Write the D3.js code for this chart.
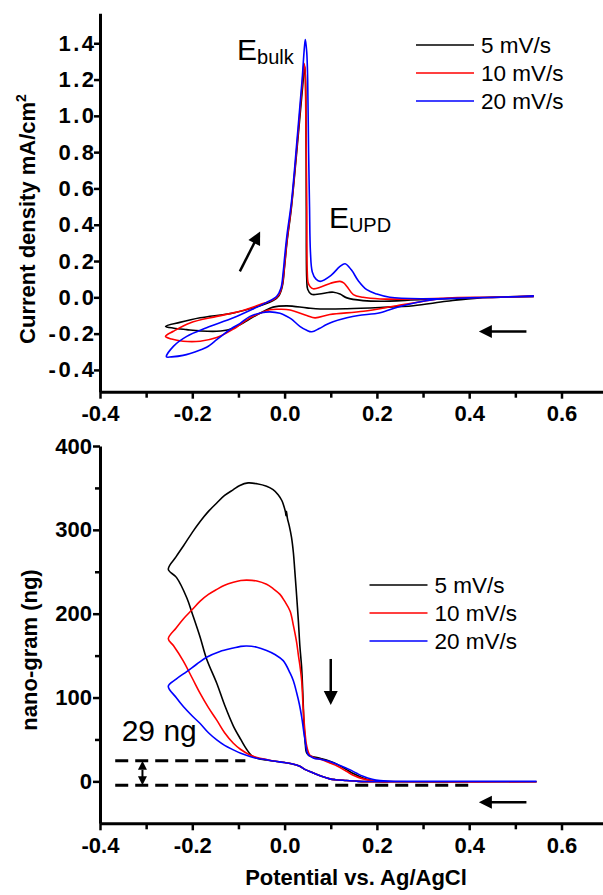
<!DOCTYPE html>
<html>
<head>
<meta charset="utf-8">
<script src="https://cdn.jsdelivr.net/npm/d3@7"></script>
<style>
  body { margin: 0; background: #fff; }
  svg { display: block; }
  text { font-family: "Liberation Sans", Arial, Helvetica, sans-serif; }
</style>
</head>
<body>
<svg id="chart" width="603" height="895"></svg>
<script>
// ---- series ----
const seriesNames = ["5 mV/s", "10 mV/s", "20 mV/s"];
const seriesColors = ["#000000", "#ff0000", "#0000ff"];

// ---- axis ticks ----
const xTickValues = [-0.4, -0.2, 0, 0.2, 0.4, 0.6];
const xTickLabels = ["-0.4", "-0.2", "0.0", "0.2", "0.4", "0.6"];
const xMinorTicks = [-0.3, -0.1, 0.1, 0.3, 0.5];
const cvTickValues = [-0.4, -0.2, 0, 0.2, 0.4, 0.6, 0.8, 1.0, 1.2, 1.4];
const cvTickLabels = ["-0.4", "-0.2", "0.0", "0.2", "0.4", "0.6", "0.8", "1.0", "1.2", "1.4"];
const massTickValues = [0, 100, 200, 300, 400];
const massTickLabels = ["0", "100", "200", "300", "400"];
const massMinorTicks = [50, 150, 250, 350];

// ---- cyclic voltammograms: [potential V, current density mA/cm2] ----
const cv5 = [
  [0.54, 0.005], [0.423, -0.003], [0.351, -0.022], [0.279, -0.046], [0.207, -0.056],
  [0.135, -0.063], [0.077, -0.064], [0.048, -0.058], [0.005, -0.047], [-0.025, -0.054],
  [-0.046, -0.078], [-0.075, -0.118], [-0.097, -0.152], [-0.118, -0.176], [-0.147, -0.187],
  [-0.183, -0.185], [-0.212, -0.178], [-0.24, -0.17], [-0.258, -0.16],
  [-0.227, -0.138], [-0.183, -0.113], [-0.111, -0.086], [-0.053, -0.046], [-0.024, -0.017],
  [-0.012, 0.01], [-0.005, 0.06], [0.0, 0.17], [0.005, 0.3], [0.015, 0.5], [0.028, 0.85],
  [0.038, 1.13], [0.042, 1.24], [0.044, 1.27], [0.046, 1.1], [0.047, 0.5], [0.048, 0.1],
  [0.05, 0.045], [0.058, 0.017], [0.075, 0.018], [0.095, 0.027], [0.106, 0.028], [0.12, 0.018],
  [0.135, -0.003], [0.17, -0.018], [0.207, -0.022], [0.3, -0.012], [0.42, -0.002], [0.54, 0.005]
];
const cv10 = [
  [0.54, 0.005], [0.45, 0.0], [0.351, -0.004], [0.301, -0.022], [0.243, -0.046],
  [0.171, -0.077], [0.098, -0.095], [0.066, -0.113], [0.048, -0.1], [0.012, -0.07],
  [-0.01, -0.066], [-0.032, -0.068], [-0.05, -0.085], [-0.075, -0.113], [-0.111, -0.175],
  [-0.147, -0.222], [-0.183, -0.242], [-0.22, -0.242], [-0.245, -0.23], [-0.258, -0.215],
  [-0.241, -0.187], [-0.205, -0.141], [-0.147, -0.105], [-0.097, -0.077], [-0.053, -0.04],
  [-0.024, -0.013], [-0.012, 0.015], [-0.005, 0.07], [0.0, 0.18], [0.005, 0.31], [0.015, 0.51],
  [0.028, 0.87], [0.038, 1.17], [0.042, 1.29], [0.044, 1.26], [0.046, 1.0], [0.048, 0.5],
  [0.049, 0.15], [0.051, 0.08], [0.055, 0.06], [0.062, 0.047], [0.08, 0.058], [0.1, 0.078],
  [0.12, 0.088], [0.128, 0.08], [0.135, 0.06], [0.149, 0.015], [0.17, 0.0], [0.207, -0.009],
  [0.3, -0.008], [0.4, -0.002], [0.54, 0.005]
];
const cv20 = [
  [0.54, 0.005], [0.45, 0.0], [0.38, -0.005], [0.322, -0.013], [0.25, -0.05],
  [0.207, -0.085], [0.16, -0.1], [0.135, -0.113], [0.105, -0.135], [0.091, -0.15],
  [0.075, -0.172], [0.059, -0.19], [0.048, -0.182], [0.033, -0.16], [0.015, -0.12],
  [0.005, -0.105], [-0.01, -0.088], [-0.032, -0.08], [-0.05, -0.085], [-0.075, -0.105],
  [-0.097, -0.145], [-0.111, -0.165], [-0.133, -0.205], [-0.147, -0.233], [-0.169, -0.275],
  [-0.183, -0.29], [-0.22, -0.32], [-0.245, -0.328], [-0.256, -0.328],
  [-0.241, -0.27], [-0.212, -0.215], [-0.169, -0.168], [-0.111, -0.113], [-0.068, -0.064],
  [-0.039, -0.028], [-0.017, 0.006], [-0.008, 0.05], [-0.003, 0.14], [0.0, 0.22], [0.005, 0.34],
  [0.015, 0.53], [0.028, 0.9], [0.038, 1.2], [0.043, 1.38], [0.045, 1.42], [0.048, 1.35],
  [0.05, 1.2], [0.052, 0.8], [0.054, 0.5], [0.056, 0.25], [0.06, 0.14], [0.068, 0.1],
  [0.077, 0.088], [0.1, 0.12], [0.12, 0.17], [0.131, 0.185], [0.145, 0.15], [0.16, 0.09],
  [0.178, 0.042], [0.2, 0.018], [0.228, 0.0], [0.3, -0.008], [0.4, -0.003], [0.54, 0.005]
];

// ---- EQCM mass change: [potential V, mass ng] ----
const mass5 = [
  [0.546, -0.5], [0.4, -0.5], [0.25, -0.5], [0.2, -0.5], [0.16, 0], [0.134, 1], [0.11, 2],
  [0.098, 3], [0.08, 6], [0.062, 10], [0.045, 14], [0.033, 18], [0.015, 21], [0.0, 22.5],
  [-0.02, 24], [-0.039, 25.5], [-0.06, 27.5], [-0.07, 30], [-0.082, 38], [-0.095, 50],
  [-0.111, 66], [-0.13, 91], [-0.147, 117], [-0.169, 146], [-0.183, 172], [-0.2, 200],
  [-0.212, 219], [-0.234, 243], [-0.252, 253],
  [-0.235, 268], [-0.219, 281], [-0.2, 297], [-0.183, 310], [-0.165, 322], [-0.147, 332],
  [-0.13, 341], [-0.111, 348], [-0.097, 353], [-0.079, 356], [-0.06, 355], [-0.039, 352],
  [-0.025, 348], [-0.014, 342], [-0.006, 335], [-0.002, 329], [0.002, 321], [0.003, 317],
  [0.004, 322], [0.006, 314], [0.01, 305], [0.015, 291], [0.019, 273], [0.022, 252],
  [0.026, 222], [0.03, 190], [0.033, 162], [0.037, 135], [0.04, 98], [0.042, 68],
  [0.045, 44], [0.047, 35], [0.052, 31], [0.058, 30], [0.08, 27], [0.098, 24], [0.115, 20],
  [0.134, 14], [0.15, 9], [0.17, 4], [0.19, 1], [0.207, 0], [0.25, -0.5], [0.4, -0.5], [0.546, -0.5]
];
const mass10 = [
  [0.546, -0.5], [0.4, -0.5], [0.25, -0.5], [0.2, -0.5], [0.16, 0], [0.134, 1], [0.11, 2],
  [0.098, 3], [0.08, 6], [0.062, 10], [0.045, 14], [0.033, 18], [0.015, 21], [0.0, 22.5],
  [-0.02, 24], [-0.039, 26], [-0.06, 28.5], [-0.075, 31.5], [-0.095, 38], [-0.111, 45.5],
  [-0.13, 58], [-0.147, 73], [-0.165, 88], [-0.183, 105], [-0.2, 123], [-0.22, 144],
  [-0.241, 162], [-0.252, 170],
  [-0.235, 183], [-0.219, 194], [-0.2, 205], [-0.183, 215], [-0.165, 223], [-0.147, 229],
  [-0.13, 234], [-0.111, 237.5], [-0.095, 239.5], [-0.082, 240], [-0.06, 239], [-0.039, 235],
  [-0.025, 230], [-0.01, 223], [0.0, 215], [0.012, 203], [0.019, 186], [0.026, 166],
  [0.03, 150], [0.033, 139], [0.037, 120], [0.04, 90], [0.044, 60], [0.048, 42], [0.055, 31],
  [0.065, 28], [0.08, 26], [0.098, 22], [0.115, 18], [0.134, 12], [0.15, 7], [0.17, 3],
  [0.19, 1], [0.207, 0], [0.3, -0.5], [0.546, -0.5]
];
const mass20 = [
  [0.546, 0], [0.4, 0], [0.25, 0], [0.2, -0.2], [0.16, 0], [0.134, 1], [0.11, 2],
  [0.098, 3], [0.08, 6], [0.062, 10], [0.045, 14], [0.033, 18], [0.015, 21], [0.0, 22.5],
  [-0.02, 24], [-0.039, 25.7], [-0.06, 27.5], [-0.075, 29.7], [-0.095, 33.5], [-0.111, 37.6],
  [-0.13, 43], [-0.147, 49.5], [-0.165, 58], [-0.183, 69], [-0.2, 78], [-0.219, 89],
  [-0.235, 100], [-0.252, 113.5],
  [-0.235, 122], [-0.212, 131], [-0.19, 140], [-0.169, 148], [-0.14, 155], [-0.111, 159],
  [-0.095, 161], [-0.082, 161.5], [-0.06, 160], [-0.039, 156], [-0.02, 151], [-0.003, 144],
  [0.012, 129], [0.019, 120], [0.026, 106], [0.032, 92], [0.037, 77], [0.044, 50],
  [0.051, 32], [0.062, 28], [0.08, 26], [0.098, 23.7], [0.12, 19], [0.141, 14], [0.155, 10],
  [0.17, 6], [0.19, 2.5], [0.207, 1], [0.25, 0], [0.4, 0], [0.546, 0]
];

// ---- annotation values ----
const massStepUpper = 24.5;   // ng, end of UPD mass gain
const massStepLower = -4.5;   // ng, baseline
const massStepLabel = "29 ng";

// ---- layout ----
const svg = d3.select("#chart");
const FONT = '"Liberation Sans", Arial, Helvetica, sans-serif';

const x = d3.scaleLinear().domain([-0.4, 0.7]).range([100, 607.65]);
const yCV = d3.scaleLinear().domain([-0.52, 1.565]).range([391.7, 13.3]);
const yM = d3.scaleLinear().domain([-50, 400]).range([823.3, 446]);

function styleAxis(g) {
  g.attr("font-family", FONT).attr("font-size", 22).attr("font-weight", "bold");
  g.select(".domain").attr("stroke", "#000").attr("stroke-width", 3);
  g.selectAll(".tick line").attr("stroke", "#000").attr("stroke-width", 2.5);
  g.selectAll(".tick text").attr("fill", "#000");
}

function drawXAxis(yPos) {
  const gx = svg.append("g").attr("transform", `translate(0,${yPos})`)
    .call(d3.axisBottom(x).tickValues(xTickValues)
      .tickFormat((d, i) => xTickLabels[i]).tickSize(7).tickSizeOuter(0).tickPadding(7));
  styleAxis(gx);
  const gm = svg.append("g").attr("transform", `translate(0,${yPos})`)
    .call(d3.axisBottom(x).tickValues(xMinorTicks).tickFormat("").tickSize(6).tickSizeOuter(0));
  gm.select(".domain").remove();
  gm.selectAll(".tick line").attr("stroke", "#000").attr("stroke-width", 2.5);
}

// top panel axes (current density)
{
  const gy = svg.append("g").attr("transform", "translate(100,0)")
    .call(d3.axisLeft(yCV).tickValues(cvTickValues)
      .tickFormat((d, i) => cvTickLabels[i]).tickSize(6).tickSizeOuter(0).tickPadding(0));
  styleAxis(gy);
  gy.selectAll(".tick text").attr("letter-spacing", 2.5).attr("dx", 2.5);
  drawXAxis(391.7);
}

// bottom panel axes (mass)
{
  const gy = svg.append("g").attr("transform", "translate(100,0)")
    .call(d3.axisLeft(yM).tickValues(massTickValues)
      .tickFormat((d, i) => massTickLabels[i]).tickSize(7).tickSizeOuter(0).tickPadding(1));
  styleAxis(gy);
  const gm = svg.append("g").attr("transform", "translate(100,0)")
    .call(d3.axisLeft(yM).tickValues(massMinorTicks).tickFormat("").tickSize(5).tickSizeOuter(0));
  gm.select(".domain").remove();
  gm.selectAll(".tick line").attr("stroke", "#000").attr("stroke-width", 2.5);
  drawXAxis(823.3);
}

// curves
const curve = d3.curveCatmullRom.alpha(0.5);
const lineCV = d3.line().x(d => x(d[0])).y(d => yCV(d[1])).curve(curve);
const lineM = d3.line().x(d => x(d[0])).y(d => yM(d[1])).curve(curve);

[cv5, cv10, cv20].forEach((s, i) => {
  svg.append("path").datum(s).attr("d", lineCV)
    .attr("fill", "none").attr("stroke", seriesColors[i]).attr("stroke-width", 1.6)
    .attr("stroke-linejoin", "round");
});

// dashed guide lines for the UPD mass step
svg.append("line")
  .attr("x1", x(-0.367)).attr("x2", x(-0.085))
  .attr("y1", yM(massStepUpper)).attr("y2", yM(massStepUpper))
  .attr("stroke", "#000").attr("stroke-width", 3).attr("stroke-dasharray", "13,7");
svg.append("line")
  .attr("x1", x(-0.367)).attr("x2", x(0.41))
  .attr("y1", yM(massStepLower)).attr("y2", yM(massStepLower))
  .attr("stroke", "#000").attr("stroke-width", 3).attr("stroke-dasharray", "13,7");

[mass5, mass10, mass20].forEach((s, i) => {
  svg.append("path").datum(s).attr("d", lineM)
    .attr("fill", "none").attr("stroke", seriesColors[i]).attr("stroke-width", 1.6)
    .attr("stroke-linejoin", "round");
});

// arrows
function arrow(x1, y1, x2, y2, head, width, both) {
  const g = svg.append("g");
  const ang = Math.atan2(y2 - y1, x2 - x1);
  const drawHead = (tx, ty, a) => {
    const bx = tx - head * Math.cos(a), by = ty - head * Math.sin(a);
    const px = -Math.sin(a) * head * 0.5, py = Math.cos(a) * head * 0.5;
    g.append("path")
      .attr("d", `M${tx},${ty}L${bx + px},${by + py}L${bx - px},${by - py}Z`)
      .attr("fill", "#000");
    return [bx, by];
  };
  const [ex, ey] = drawHead(x2, y2, ang);
  let sx = x1, sy = y1;
  if (both) [sx, sy] = drawHead(x1, y1, ang + Math.PI);
  g.append("line").attr("x1", sx).attr("y1", sy).attr("x2", ex + Math.cos(ang) * 2).attr("y2", ey + Math.sin(ang) * 2)
    .attr("stroke", "#000").attr("stroke-width", width);
}
arrow(x(-0.097), yCV(0.143), x(-0.053), yCV(0.363), 13, 2.5, false);
arrow(x(0.524), yCV(-0.188), x(0.421), yCV(-0.188), 13, 2.5, false);
arrow(x(0.1), yM(146), x(0.1), yM(91), 14, 2.5, false);
arrow(x(0.524), yM(-25), x(0.421), yM(-25), 13, 2.5, false);
arrow(x(-0.308), yM(massStepUpper), x(-0.308), yM(massStepLower), 9, 2, true);

// peak labels
function subLabel(px, py, main, sub) {
  const t = svg.append("text").attr("x", px).attr("y", py)
    .attr("font-family", FONT).attr("font-size", 30).attr("fill", "#000");
  t.append("tspan").text(main);
  t.append("tspan").attr("font-size", 20).attr("dy", 4).text(sub);
}
subLabel(x(-0.103), yCV(1.31), "E", "bulk");
subLabel(x(0.096), yCV(0.382), "E", "UPD");

svg.append("text").attr("x", x(-0.353)).attr("y", yM(48.6))
  .attr("font-family", FONT).attr("font-size", 30).attr("fill", "#000").text(massStepLabel);

// legends
function legend(lx, ly) {
  seriesNames.forEach((n, i) => {
    const yy = ly + i * 28;
    svg.append("line").attr("x1", lx).attr("x2", lx + 58).attr("y1", yy).attr("y2", yy)
      .attr("stroke", seriesColors[i]).attr("stroke-width", 1.6);
    svg.append("text").attr("x", lx + 65).attr("y", yy + 8)
      .attr("font-family", FONT).attr("font-size", 22.5).attr("fill", "#000").text(n);
  });
}
legend(416, 45);
legend(369.5, 585);

// axis titles
svg.append("text").attr("transform", "translate(35,219) rotate(-90)")
  .attr("text-anchor", "middle").attr("font-family", FONT).attr("font-size", 22)
  .attr("font-weight", "bold").attr("fill", "#000")
  .call(t => {
    t.append("tspan").text("Current density mA/cm");
    t.append("tspan").attr("font-size", 14).attr("dy", -9).text("2");
  });
svg.append("text").attr("transform", "translate(37,650) rotate(-90)")
  .attr("text-anchor", "middle").attr("font-family", FONT).attr("font-size", 22)
  .attr("font-weight", "bold").attr("fill", "#000").text("nano-gram (ng)");
svg.append("text").attr("x", 356).attr("y", 885)
  .attr("text-anchor", "middle").attr("font-family", FONT).attr("font-size", 22)
  .attr("font-weight", "bold").attr("fill", "#000").text("Potential vs. Ag/AgCl");
</script>
</body>
</html>
